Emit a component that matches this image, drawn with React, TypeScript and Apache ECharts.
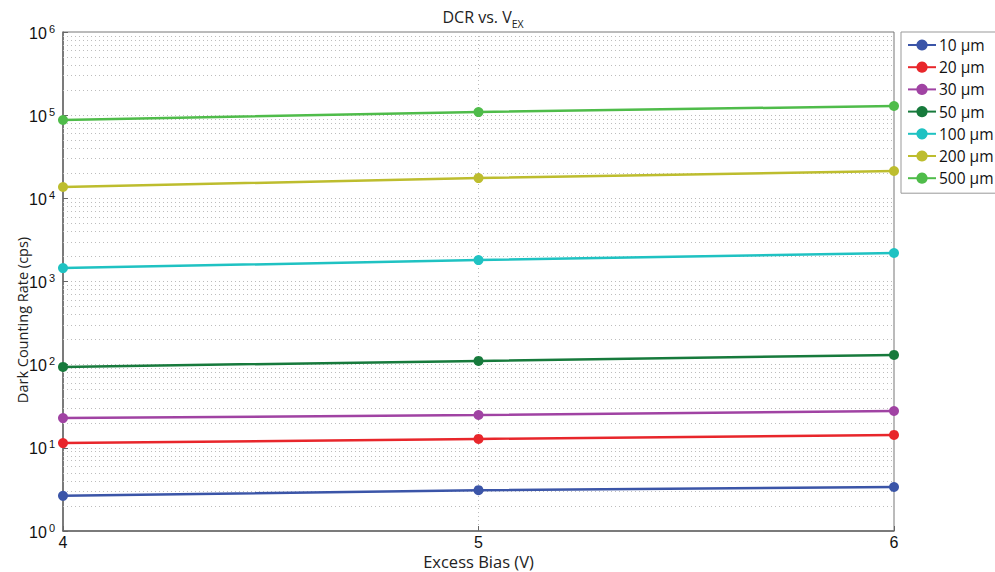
import React, { useEffect, useRef } from "react";
import * as echarts from "echarts";

const biasV = [4, 5, 6];
const seriesNames = ["10 µm", "20 µm", "30 µm", "50 µm", "100 µm", "200 µm", "500 µm"];
const dcr10 = [2.65, 3.1, 3.38];
const dcr20 = [11.4, 12.8, 14.3];
const dcr30 = [22.8, 24.8, 27.7];
const dcr50 = [94, 111, 131];
const dcr100 = [1450, 1810, 2200];
const dcr200 = [13700, 17500, 21300];
const dcr500 = [87500, 109000, 129000];
const seriesColors = ["#3b55a8", "#e8262b", "#a043a3", "#177a3c", "#1fc2c2", "#bdbd2e", "#4fbc4a"];
const allData = [dcr10, dcr20, dcr30, dcr50, dcr100, dcr200, dcr500];
const decades = [1, 10, 100, 1000, 10000, 100000];
const minorMultipliers = [2, 3, 4, 5, 6, 7, 8, 9];

export default function App() {
  const ref = useRef<HTMLDivElement>(null);
  useEffect(() => {
    if (!ref.current) return;
    const chart = echarts.init(ref.current, null, { renderer: "svg" });
    const font = "Liberation Sans";
    const nameFont = "Open Sans";
    const minorVals: number[] = [];
    decades.forEach((d) => minorMultipliers.forEach((m) => minorVals.push(m * d)));
    const series: any[] = allData.map((d, i) => ({
      name: seriesNames[i],
      type: "line",
      data: biasV.map((x, j) => [x, d[j]]),
      symbol: "circle",
      symbolSize: 10,
      lineStyle: { width: 2.5, color: seriesColors[i] },
      itemStyle: { color: seriesColors[i] },
      z: 5,
    }));
    series[0].markLine = {
      silent: true,
      symbol: ["none", "none"],
      z: 1,
      label: { show: false },
      emphasis: { disabled: true },
      lineStyle: { color: "#bdbdbd", width: 1, type: [1, 3] },
      data: minorVals.map((v) => ({ yAxis: v })),
    };
    chart.setOption({
      animation: false,
      backgroundColor: "#ffffff",
      title: {
        text: "{a|DCR vs. V}{b|EX}",
        left: 478,
        textAlign: "center",
        top: 4,
        textStyle: {
          fontWeight: "normal",
          rich: {
            a: { fontFamily: nameFont, fontSize: 16, color: "#222", verticalAlign: "top", lineHeight: 20 },
            b: { fontFamily: nameFont, fontSize: 10.5, color: "#222", verticalAlign: "bottom", lineHeight: 8 },
          },
        },
      },
      legend: {
        orient: "vertical",
        left: 901,
        top: 32,
        backgroundColor: "#ffffff",
        borderColor: "#999999",
        borderWidth: 1,
        padding: [5, 8, 7, 6],
        itemGap: 6.2,
        itemWidth: 28,
        itemHeight: 14,
        textStyle: { fontFamily: nameFont, fontSize: 15.5, color: "#111", padding: [0, 0, 0, -2] },
        data: seriesNames,
      },
      grid: {
        left: 63,
        right: 101,
        top: 32,
        bottom: 41,
        show: true,
        borderColor: "#777",
        borderWidth: 1,
        outerBoundsMode: "none",
        containLabel: false,
      },
      xAxis: {
        type: "value",
        min: 4,
        max: 6,
        interval: 1,
        name: "Excess Bias (V)",
        nameLocation: "middle",
        nameGap: 21,
        nameMoveOverlap: false,
        nameTextStyle: { fontFamily: nameFont, fontSize: 16.5, lineHeight: 18, color: "#222" },
        axisLine: { lineStyle: { color: "#666", width: 1.5 } },
        axisTick: { inside: true, length: 5, lineStyle: { color: "#666" } },
        axisLabel: { fontFamily: font, fontSize: 16, color: "#111", margin: 3 },
        splitLine: { show: true, lineStyle: { color: "#bbb", type: [1, 3] } },
      },
      yAxis: {
        type: "log",
        logBase: 10,
        min: 1,
        max: 1000000,
        name: "Dark Counting Rate (cps)",
        nameLocation: "middle",
        nameGap: 33,
        nameMoveOverlap: false,
        nameTextStyle: { fontFamily: nameFont, fontSize: 14.5, color: "#222", padding: [0, 77, 0, 0] },
        axisLine: { lineStyle: { color: "#666", width: 1.5 } },
        axisTick: { inside: true, length: 5, lineStyle: { color: "#666" } },
        axisLabel: {
          margin: 8,
          formatter: (v: number) => `{b|10}{s|${Math.round(Math.log10(v))}}`,
          rich: {
            b: { fontFamily: font, fontSize: 16, color: "#111", verticalAlign: "bottom", lineHeight: 18 },
            s: { fontFamily: font, fontSize: 11, color: "#111", verticalAlign: "top", lineHeight: 18, padding: [0, 0, 8, 2] },
          },
        },
        splitLine: { show: true, lineStyle: { color: "#bbb", type: [1, 3] } },
      },
      series,
    });
    return () => chart.dispose();
  }, []);
  return <div ref={ref} style={{ width: 995, height: 572, position: "absolute", left: 0, top: 0 }} />;
}
